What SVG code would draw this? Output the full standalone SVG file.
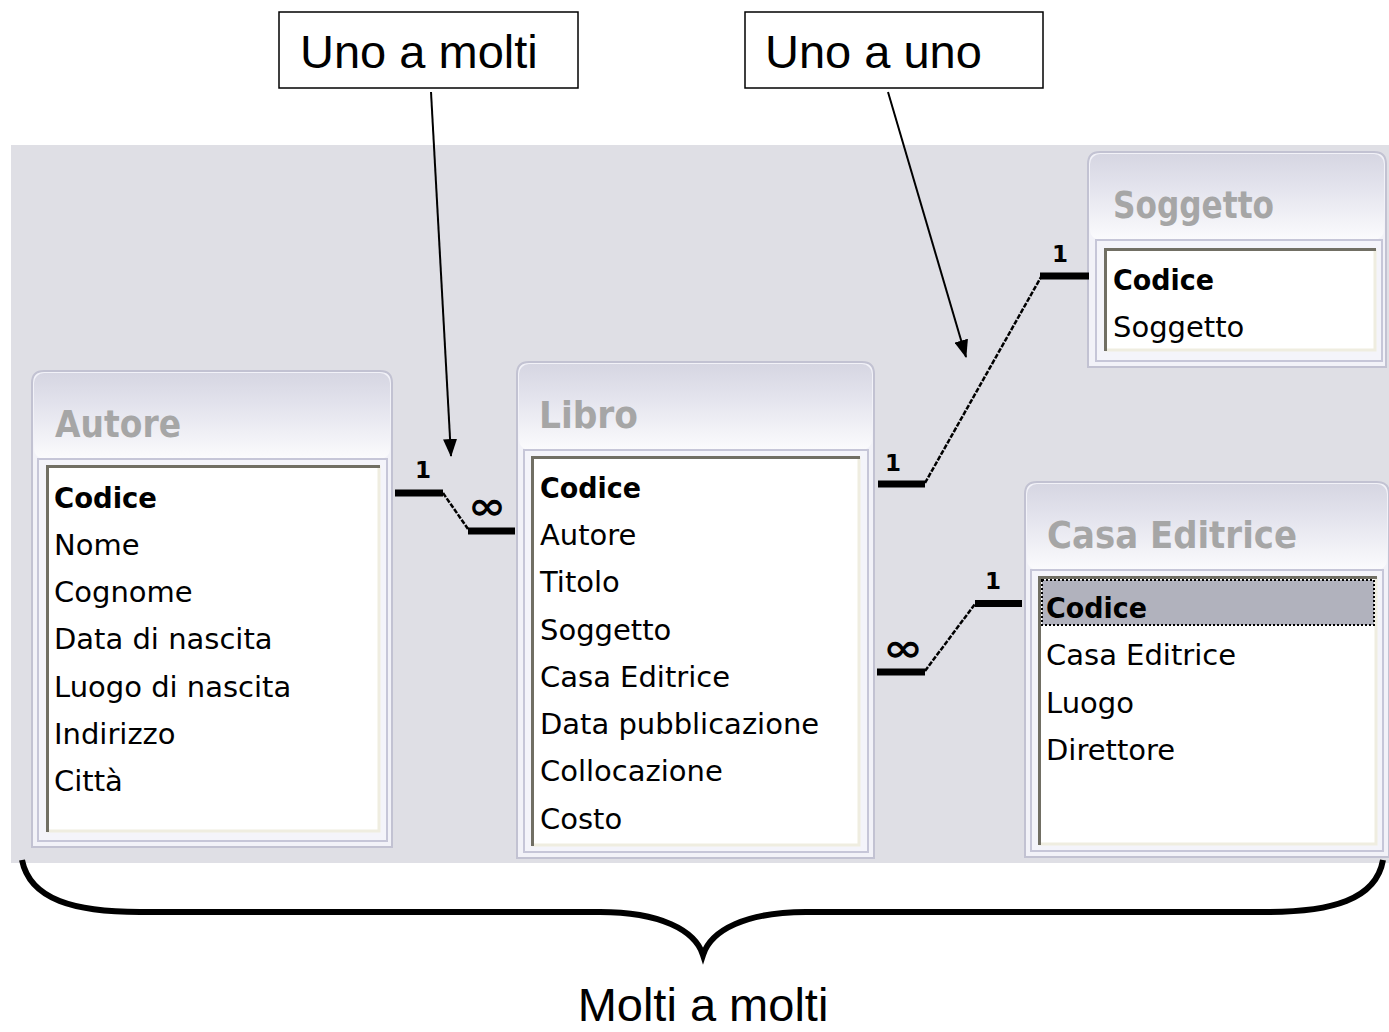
<svg xmlns="http://www.w3.org/2000/svg" width="1389" height="1032" viewBox="0 0 1389 1032">
<defs>
<linearGradient id="tg" x1="0" y1="0" x2="0" y2="1">
<stop offset="0" stop-color="#d6d6e2"/>
<stop offset="0.35" stop-color="#e2e2ec"/>
<stop offset="1" stop-color="#fbfbfd"/>
</linearGradient>
<marker id="arr" markerWidth="18" markerHeight="14" refX="17" refY="7" orient="auto" markerUnits="userSpaceOnUse">
<path d="M0,0 L18,7 L0,14 Z" fill="#000"/>
</marker>
<style>
.outer{fill:#f2f2f8;stroke:#c2c2d2;stroke-width:2}
.tbar{fill:url(#tg)}
.frame{fill:#f4f4fa;stroke:#c6c6d8;stroke-width:2}
.list{fill:#ffffff}
.dark{fill:none;stroke:#716f64;stroke-width:3}
.light{fill:none;stroke:#efede0;stroke-width:3}
.title{font-family:"DejaVu Sans",sans-serif;font-weight:bold;font-size:38px;fill:#a6a6a6}
.fld{font-family:"DejaVu Sans",sans-serif;font-size:29px;fill:#000}
.key{font-family:"DejaVu Sans",sans-serif;font-size:29px;font-weight:bold;fill:#000}
.thick{stroke:#000;stroke-width:7;fill:none}
.diag{stroke:#000;stroke-width:2.5;stroke-dasharray:5 1.5;fill:none}
.card{font-family:"DejaVu Sans",sans-serif;font-weight:bold;font-size:23px;fill:#000}
.inf{font-family:"DejaVu Sans",sans-serif;font-weight:bold;font-size:38px;fill:#000}
.lbl{font-family:"Liberation Sans",Arial,sans-serif;font-size:47px;fill:#000}
.box{fill:#fff;stroke:#000;stroke-width:1.5}
.ptr{stroke:#000;stroke-width:2;fill:none}
</style>
</defs>
<rect x="11" y="145" width="1378" height="718" fill="#dfdfe5"/>

<g id="autore">
<path class="outer" d="M32,847 V383 Q32,371 44,371 H380 Q392,371 392,383 V847 Z"/>
<rect class="tbar" x="34" y="373" width="356" height="86" rx="10"/>
<rect class="frame" x="38" y="459" width="349" height="382"/>
<rect class="list" x="46" y="465" width="334" height="367"/>
<path class="light" d="M379,466 V831 H47"/>
<path class="dark" d="M47.5,832 V466.5 H380"/>
<text class="title" x="55" y="437" textLength="126" lengthAdjust="spacingAndGlyphs">Autore</text>
<text class="key" x="54" y="508" textLength="103" lengthAdjust="spacingAndGlyphs">Codice</text>
<text class="fld" x="54" y="555">Nome</text>
<text class="fld" x="54" y="602">Cognome</text>
<text class="fld" x="54" y="649">Data di nascita</text>
<text class="fld" x="54" y="697">Luogo di nascita</text>
<text class="fld" x="54" y="744">Indirizzo</text>
<text class="fld" x="54" y="791">Città</text>
</g>

<g id="libro">
<path class="outer" d="M517,858 V374 Q517,362 529,362 H862 Q874,362 874,374 V858 Z"/>
<rect class="tbar" x="519" y="364" width="353" height="86" rx="10"/>
<rect class="frame" x="524" y="450" width="344" height="402"/>
<rect class="list" x="531" y="456" width="329" height="390"/>
<path class="light" d="M859,457 V845 H532"/>
<path class="dark" d="M532.5,846 V457.5 H860"/>
<text class="title" x="539" y="428" textLength="99" lengthAdjust="spacingAndGlyphs">Libro</text>
<text class="key" x="540" y="498" textLength="101" lengthAdjust="spacingAndGlyphs">Codice</text>
<text class="fld" x="540" y="545">Autore</text>
<text class="fld" x="540" y="592">Titolo</text>
<text class="fld" x="540" y="640">Soggetto</text>
<text class="fld" x="540" y="687">Casa Editrice</text>
<text class="fld" x="540" y="734">Data pubblicazione</text>
<text class="fld" x="540" y="781">Collocazione</text>
<text class="fld" x="540" y="829">Costo</text>
</g>

<g id="soggetto">
<path class="outer" d="M1088,367 V164 Q1088,152 1100,152 H1374 Q1386,152 1386,164 V367 Z"/>
<rect class="tbar" x="1090" y="154" width="294" height="86" rx="10"/>
<rect class="frame" x="1096" y="240" width="286" height="121"/>
<rect class="list" x="1104" y="248" width="272" height="103"/>
<path class="light" d="M1375,249 V350 H1105"/>
<path class="dark" d="M1105.5,351 V249.5 H1376"/>
<text class="title" x="1113" y="218" textLength="161" lengthAdjust="spacingAndGlyphs">Soggetto</text>
<text class="key" x="1113" y="290" textLength="101" lengthAdjust="spacingAndGlyphs">Codice</text>
<text class="fld" x="1113" y="337">Soggetto</text>
</g>

<g id="casa-editrice">
<path class="outer" d="M1025,857 V494 Q1025,482 1037,482 H1377 Q1389,482 1389,494 V857 Z"/>
<rect class="tbar" x="1027" y="484" width="360" height="86" rx="10"/>
<rect class="frame" x="1031" y="570" width="352" height="281"/>
<rect class="list" x="1038" y="576" width="339" height="269"/>
<path class="light" d="M1376,577 V844 H1039"/>
<path class="dark" d="M1039.5,845 V577.5 H1377"/>
<rect x="1042" y="580" width="332" height="45" fill="#b1b2bd" stroke="#000" stroke-width="2" stroke-dasharray="2 2"/>
<text class="title" x="1047" y="548" textLength="250" lengthAdjust="spacingAndGlyphs">Casa Editrice</text>
<text class="key" x="1046" y="618" textLength="101" lengthAdjust="spacingAndGlyphs">Codice</text>
<text class="fld" x="1046" y="665">Casa Editrice</text>
<text class="fld" x="1046" y="713">Luogo</text>
<text class="fld" x="1046" y="760">Direttore</text>
</g>

<g id="label-uno-a-molti">
<rect class="box" x="279" y="12" width="299" height="76"/>
<text class="lbl" x="300" y="68">Uno a molti</text>
</g>
<g id="label-uno-a-uno">
<rect class="box" x="745" y="12" width="298" height="76"/>
<text class="lbl" x="765" y="68">Uno a uno</text>
</g>

<g id="connectors">
<path class="thick" d="M395,493 H443"/>
<path class="diag" d="M443,493 L468,529"/>
<path class="thick" d="M468,531 H515"/>
<text class="card" x="415" y="478">1</text>
<text class="inf" x="468" y="519" textLength="38" lengthAdjust="spacingAndGlyphs">∞</text>

<path class="thick" d="M878,484 H925"/>
<path class="diag" d="M925,483 L1041,277"/>
<path class="thick" d="M1040,276 H1089"/>
<text class="card" x="885" y="471">1</text>
<text class="card" x="1052" y="262">1</text>

<path class="thick" d="M877,672 H925"/>
<path class="diag" d="M925,671 L975,604"/>
<path class="thick" d="M975,603.5 H1022"/>
<text class="inf" x="883" y="661" textLength="40" lengthAdjust="spacingAndGlyphs">∞</text>
<text class="card" x="985" y="589">1</text>

<path class="ptr" d="M431,92 L451,456" marker-end="url(#arr)"/>
<path class="ptr" d="M888,92 L966,357" marker-end="url(#arr)"/>
</g>

<g id="brace">
<path d="M22,860 C30,900 75,912 140,912 L600,912 C660,912 695,930 703,955 C711,930 746,912 806,912 L1266,912 C1331,912 1376,900 1383,860" fill="none" stroke="#000" stroke-width="6"/>
<text class="lbl" x="703" y="1021" text-anchor="middle">Molti a molti</text>
</g>
</svg>
